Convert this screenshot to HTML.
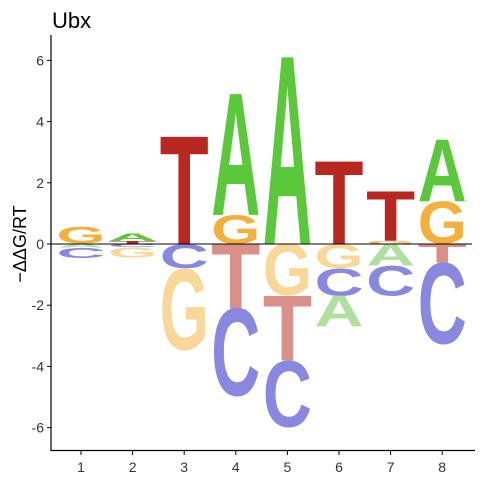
<!DOCTYPE html>
<html><head><meta charset="utf-8"><style>
body{margin:0;background:#fff}
svg{display:block;font-family:"Liberation Sans",sans-serif}
</style></head><body>
<svg id="chart" width="480" height="480" viewBox="0 0 480 480">
<text x="52" y="28" font-size="22" fill="#000">Ubx</text>
<text transform="translate(26,244) rotate(-90)" text-anchor="middle" font-size="18" fill="#000">−ΔΔG/RT</text>
<g id="marks"></g>
<g id="axes"></g>
</svg>
<script>
const positions = [1,2,3,4,5,6,7,8];
const valsA = [-0.12, 0.25, 0, 3.95, 6.1, -1.0, -0.7, 2.0];
const valsC = [-0.35, -0.1, -0.8, -2.9, -2.2, -0.9, -1.0, -2.7];
const valsG = [0.55, -0.35, -2.7, 0.95, -1.7, -0.8, 0.1, 1.4];
const valsT = [0, 0.1, 3.5, -2.1, -2.1, 2.7, 1.6, -0.6];
const yTicks = [-6,-4,-2,0,2,4,6];

const NS="http://www.w3.org/2000/svg";
const x = p => 81 + (p-1)*51.6;
const y = v => 244 - v*30.6;
const posCol = {A:"#5ac83a",C:"#8080e0",G:"#f4b03c",T:"#b82820"};
const negCol = {A:"#b0e0a0",C:"#8888e0",G:"#f8d898",T:"#d89088"};
const marks=document.getElementById('marks');
const axes=document.getElementById('axes');
const W=49;
function letter(ch,p,v0,v1,col,i){
  const top=Math.min(y(v0),y(v1)), bot=Math.max(y(v0),y(v1));
  const h=bot-top; if(h<0.5) return;
  const round=(ch==='G'||ch==='C');
  const capH=round?71:68.8;
  const g=document.createElementNS(NS,'g');
  g.setAttribute('transform',`translate(${x(p)-W/2},${bot}) scale(1,${h/capH})`);
  const t=document.createElementNS(NS,'text');
  t.setAttribute('x',0);t.setAttribute('y',round?-1.2:0);
  t.setAttribute('font-size',100);t.setAttribute('font-weight','bold');
  t.setAttribute('textLength',W);t.setAttribute('lengthAdjust','spacingAndGlyphs');
  t.setAttribute('fill',col);t.textContent=ch;
  
  
  g.appendChild(t);marks.appendChild(g);
}
positions.forEach((p,i)=>{
  const items=[['A',valsA[i]],['C',valsC[i]],['G',valsG[i]],['T',valsT[i]]];
  const pos=items.filter(d=>d[1]>0).sort((a,b)=>a[1]-b[1]);
  const neg=items.filter(d=>d[1]<0).sort((a,b)=>b[1]-a[1]);
  let c=0; pos.forEach(d=>{letter(d[0],p,c,c+d[1],posCol[d[0]],i);c+=d[1];});
  c=0; neg.forEach(d=>{letter(d[0],p,c,c+d[1],negCol[d[0]],i);c+=d[1];});
});
function line(x1,y1,x2,y2,w,name){const l=document.createElementNS(NS,'line');
 l.setAttribute('x1',x1);l.setAttribute('y1',y1);l.setAttribute('x2',x2);l.setAttribute('y2',y2);
 l.setAttribute('stroke','#000');l.setAttribute('stroke-width',w);
 
 
 axes.appendChild(l);}
function txt(s,xx,yy,anchor,name){const t=document.createElementNS(NS,'text');
 t.setAttribute('x',xx);t.setAttribute('y',yy);t.setAttribute('text-anchor',anchor);
 t.setAttribute('font-size',14);t.setAttribute('fill','#333');t.textContent=s;
 
 
 axes.appendChild(t);}
line(51,y(0),472,y(0),1,'zero-line');
line(51,35,51,451,1.2,'y-axis-line');
line(50.4,450.5,475,450.5,1.2,'x-axis-line');
yTicks.forEach(v=>{line(47,y(v),51,y(v),1,'y-tick');txt(String(v),44,y(v)+5,'end','y-tick-label');});
positions.forEach(p=>{line(x(p),451,x(p),455,1,'x-tick');txt(String(p),x(p),472,'middle','x-tick-label');});
</script>
</body></html>
